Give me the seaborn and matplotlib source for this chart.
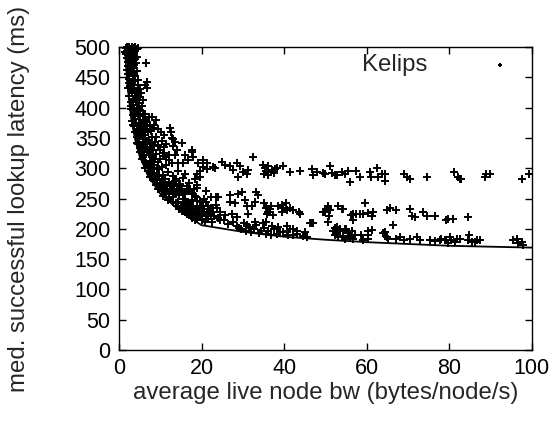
import numpy as np
import pandas as pd
import matplotlib
matplotlib.use('Agg')
import matplotlib.pyplot as plt
import seaborn as sns

# steep band on the left (low bandwidth, high latency)
steep_x = [1.6, 1.9, 2.2, 2.5, 2.8, 3.1, 3.4, 3.7, 4.0, 4.3,
           1.7, 2.0, 2.3, 2.6, 2.9, 3.2, 3.5, 3.8, 4.1, 4.4, 6.5,
           1.9, 2.2, 2.5, 2.8, 3.1, 3.4, 3.7, 4.0, 4.3, 4.6, 2.4, 3.0, 3.6, 6.7, 6.7, 6.3,
           2.2, 2.5, 2.8, 3.1, 3.4, 3.7, 4.0, 4.3, 4.6, 4.9, 5.2, 5.5, 2.9, 3.5, 4.1, 4.7,
           2.8, 3.1, 3.4, 3.7, 4.0, 4.3, 4.6, 4.9, 5.2, 5.5, 5.8, 6.1, 6.4, 6.8, 7.2, 3.6, 4.4, 5.0, 6.0,
           8.0, 8.6, 9.0, 9.4, 8.3,
           4.3, 4.6, 4.9, 5.2, 5.5, 5.8, 6.1, 6.4, 6.8, 7.2, 7.6, 8.0, 8.5, 4.5, 5.4, 6.6, 7.8,
           5.0, 5.5, 6.0, 6.5, 7.0, 7.5, 8.0, 8.5, 9.0, 9.5, 10.0, 10.5, 11.0, 11.5, 12.0, 6.2, 7.8, 9.2, 10.8, 12.8,
           7.0, 7.6, 8.2, 8.8, 9.4, 10.0, 10.6, 11.2, 11.8, 12.4, 13.0, 13.6, 14.2, 14.8, 15.4, 16.0, 8.5, 10.3, 12.1, 13.9,
           10.0, 10.6, 11.2, 11.8, 12.4, 13.0, 13.6, 14.2, 14.8, 15.4, 16.0, 16.6, 17.2, 17.8, 18.4, 19.0, 19.6, 11.5, 13.3, 15.1, 16.9, 18.7,
           14.0, 14.6, 15.2, 15.8, 16.4, 17.0, 17.6, 18.2, 18.8, 19.4, 20.0, 20.6, 21.2, 21.8, 22.4, 23.0, 16.1, 18.5, 20.3, 22.0]
steep_y = [498, 500, 496, 499, 497, 500, 495, 498, 493, 497,
           488, 482, 476, 485, 479, 472, 486, 480, 474, 483, 474,
           462, 455, 448, 468, 458, 444, 465, 452, 460, 446, 441, 436, 470, 442, 432, 437,
           432, 420, 410, 425, 405, 430, 415, 400, 422, 408, 418, 402, 438, 412, 428, 395,
           398, 378, 388, 370, 382, 365, 395, 374, 386, 362, 380, 368, 390, 372, 384, 398, 358, 366, 355,
           385, 372, 380, 364, 366,
           352, 340, 348, 333, 356, 344, 338, 350, 334, 346, 340, 352, 336, 358, 330, 343, 331,
           326, 315, 322, 308, 328, 312, 318, 305, 324, 310, 316, 302, 320, 306, 314, 300, 304, 301, 325, 308,
           296, 285, 292, 280, 298, 276, 289, 283, 294, 272, 287, 279, 296, 274, 284, 291, 279, 270, 278, 282,
           268, 255, 262, 248, 265, 252, 259, 244, 266, 250, 257, 242, 263, 247, 254, 268, 246, 252, 258, 261, 241, 252,
           238, 233, 230, 236, 225, 232, 218, 228, 235, 224, 215, 233, 217, 227, 234, 221, 227, 214, 238, 230]

# extra points filling the dense part of the steep band
fill_x = [1.5, 2.0, 2.6, 3.3, 3.9, 4.6, 2.4, 3.0,
          2.1, 2.7, 3.3, 3.9, 4.5, 5.0, 2.6, 3.2, 3.8, 4.4, 5.3, 5.8,
          3.0, 3.3, 3.9, 4.5, 5.1, 5.7, 6.3, 6.9, 7.5, 4.1, 4.7, 5.3, 5.9, 6.5, 7.0, 7.8, 3.8, 3.5,
          4.4, 5.0, 5.6, 6.2, 6.8, 7.4, 8.2, 8.8, 9.4, 10.0, 10.6, 5.8, 6.4, 7.0, 7.6, 8.2, 8.8, 9.6,
          11.4, 12.2, 9.0, 10.2, 11.0,
          7.4, 8.0, 8.6, 9.2, 9.8, 10.4, 11.0, 11.6, 12.2, 12.8, 13.4, 14.0, 14.6, 15.2, 15.8, 16.4,
          17.0, 17.6, 18.2, 10.5, 11.0, 12.0, 13.2, 9.0, 9.5,
          13.8, 14.4, 15.0, 15.6, 16.2, 16.8, 17.4, 18.0, 18.6, 19.2, 19.8, 20.4, 21.0, 21.6, 22.2,
          22.8, 17.5, 19.0, 20.8, 22.5, 24.0, 23.8, 15.8, 17.2, 16.0, 18.8, 20.0]
fill_y = [492, 494, 491, 489, 500, 499, 500, 486,
          468, 460, 452, 446, 438, 430, 436, 428, 420, 415, 425, 412,
          402, 396, 392, 388, 396, 390, 380, 376, 370, 375, 362, 372, 360, 365, 360, 362, 360, 372,
          342, 338, 328, 335, 326, 322, 330, 344, 338, 330, 325, 318, 312, 305, 300, 310, 316, 298,
          318, 322, 352, 360, 335,
          292, 285, 290, 282, 288, 280, 274, 266, 258, 265, 270, 262, 256, 266, 260, 270,
          266, 258, 266, 265, 258, 250, 245, 272, 266,
          242, 238, 235, 242, 236, 240, 230, 238, 224, 232, 224, 228, 222, 238, 224,
          228, 222, 216, 212, 212, 218, 234, 230, 226, 250, 246, 244]

# scattered points above the knee
knee_x = [12.3, 12.9, 12.7, 13.2, 13.5, 13.2, 15.2, 12.8, 13.6, 14.4, 15.6, 17.6, 16.8, 18.0, 19.2,
          20.4, 21.2, 23.2, 18.4, 19.6, 17.6, 20.4, 21.2, 22.8, 18.8, 19.6, 14.0, 16.0, 11.5, 11.0, 10.5,
          12.0, 14.5, 17.0, 19.0, 21.0, 22.4, 23.6, 22.8, 21.6, 20.5, 18.0, 16.5, 19.8, 23.5, 24.5, 21.0]
knee_y = [366, 350, 360, 349, 344, 336, 341, 308, 322, 308, 308, 327, 314, 319, 308,
          314, 308, 300, 283, 285, 330, 302, 298, 302, 291, 296, 330, 322, 340, 355, 345,
          275, 270, 275, 272, 262, 253, 253, 234, 217, 250, 258, 245, 232, 240, 228, 244]

# upper plateau (~300 ms)
upper_x = [32.5, 24.9, 25.7, 26.9, 27.7, 28.5, 29.3, 30.1, 30.9, 31.3, 28.9, 35.4, 36.2, 37.0, 35.0,
           36.2, 37.8, 39.8, 34.8, 36.0, 37.5, 38.2, 35.6,
           41.4, 43.8, 46.7, 47.1, 47.9, 49.5, 51.1, 51.5, 52.7,
           49.9, 52.3, 53.9, 54.7, 55.5, 55.9, 57.5, 58.3, 60.7, 61.1, 62.4, 62.8, 63.6, 64.4, 64.4,
           68.9, 69.7, 70.5, 74.5,
           81.2, 82.2, 82.6, 82.9, 88.6, 88.8, 89.8, 97.5, 99.4]
upper_y = [318, 311, 305, 303, 297, 308, 303, 294, 291, 297, 286, 300, 294, 297, 291,
           289, 298, 303, 305, 303, 292, 300, 296,
           294, 296, 298, 289, 293, 292, 303, 292, 289,
           291, 289, 294, 291, 296, 278, 296, 286, 293, 286, 300, 286, 291, 291, 279,
           291, 286, 283, 285,
           293, 286, 282, 283, 286, 291, 291, 282, 290]

# middle branch (~230 ms)
mid_x = [24.0, 26.9, 28.9, 29.7, 33.3, 33.7, 26.9, 28.1, 30.5, 30.9, 32.1, 32.9, 25.7, 27.3, 28.5, 31.3,
         35.0, 35.6, 36.2, 36.8, 37.4, 35.8, 36.6, 38.6, 39.4,
         40.4, 40.6, 39.8, 42.2, 43.8, 49.5, 50.7, 51.1, 50.9, 50.7, 46.3, 47.1, 53.1, 53.9,
         49.8, 50.6, 54.3, 56.7, 57.5, 58.3, 59.2, 60.4, 59.6, 61.6, 61.2, 64.8, 65.6, 67.2,
         70.5, 70.9, 71.7, 73.7, 74.5, 76.5, 79.3, 56.3, 56.7, 79.7, 80.9, 84.6, 39.5, 41.5, 43.5]
mid_y = [253, 256, 258, 261, 261, 256, 245, 242, 247, 237, 237, 245, 223, 225, 220, 225,
         242, 235, 228, 238, 223, 225, 232, 237, 228,
         242, 231, 234, 231, 225, 228, 237, 231, 221, 212, 209, 210, 237, 233,
         228, 234, 232, 224, 225, 224, 225, 226, 242, 228, 221, 231, 235, 231,
         232, 222, 220, 228, 221, 222, 214, 223, 214, 216, 217, 220, 240, 235, 228]

# lower branch, just above the envelope
low_x = [28.5, 29.5, 30.2, 30.8, 31.5, 32.0, 32.6, 33.2, 33.8, 34.4, 35.0, 35.6, 36.2, 29.0, 31.0, 33.0,
         34.8, 36.8, 37.5, 38.2, 39.0, 27.5, 26.5, 25.5, 24.5, 37.0, 38.5, 35.5,
         40.6, 40.6, 41.4, 42.2, 39.8, 43.0, 45.0, 52.3, 52.7, 53.5, 54.7, 55.5, 42.2,
         51.8, 52.4, 53.0, 53.6, 54.2, 54.8, 55.4, 56.0, 56.6, 57.2, 52.8, 55.0, 56.4, 58.6, 59.1,
         60.4, 60.4, 60.4, 64.0, 64.8, 65.2, 67.2, 68.0, 68.9, 70.5, 72.1, 72.9, 75.3, 76.5, 77.7,
         78.9, 79.7, 66.4, 61.2, 64.4,
         78.1, 79.3, 80.1, 80.5, 81.4, 81.8, 82.6, 84.6, 84.8, 85.4, 86.2, 86.6, 87.4,
         95.5, 96.3, 96.7, 97.5, 97.9, 41.0, 43.0, 44.5, 45.5, 46.7]
low_y = [205, 199, 210, 197, 203, 194, 199, 207, 193, 196, 201, 192, 197, 202, 206, 211,
         209, 190, 199, 192, 195, 212, 208, 214, 215, 205, 203, 212,
         204, 196, 199, 199, 194, 196, 195, 201, 193, 196, 199, 193, 189,
         196, 190, 186, 200, 188, 184, 194, 187, 183, 190, 203, 200, 196, 190, 181,
         183, 197, 189, 193, 187, 184, 184, 186, 181, 183, 187, 181, 181, 180, 181,
         181, 177, 206, 198, 194,
         183, 181, 187, 181, 179, 184, 183, 181, 190, 179, 179, 181, 181,
         181, 183, 176, 179, 173, 190, 192, 188, 186, 210]

# lower envelope curve
env_x = [1.4, 2, 3, 4, 5, 7, 10, 15, 20, 30, 40, 50, 60, 80, 100]
env_y = [500, 440, 380, 345, 320, 288, 258, 228, 206, 195, 187, 182, 178, 172, 169]

pts = pd.DataFrame({
    'bw': steep_x + fill_x + knee_x + upper_x + mid_x + low_x,
    'lat': steep_y + fill_y + knee_y + upper_y + mid_y + low_y,
})
env = pd.DataFrame({'bw': env_x, 'lat': env_y})

sns.set_theme(style='ticks')
plt.rcParams['font.family'] = ['Liberation Sans', 'DejaVu Sans']
plt.rcParams['font.size'] = 15.5

fig = plt.figure(figsize=(5.57, 4.24), dpi=100)
ax = fig.add_axes([0.2136, 0.1745, 0.955 - 0.2136, 0.889 - 0.1745])

sns.lineplot(data=env, x='bw', y='lat', ax=ax, color='black', lw=1.3,
             estimator=None, sort=True, legend=False)
sns.scatterplot(data=pts, x='bw', y='lat', ax=ax, marker='+', color='black',
                s=40, linewidth=1.4, label='Kelips', clip_on=False)

ax.set_xlim(0, 100)
ax.set_ylim(0, 500)
ax.set_xticks(range(0, 101, 20))
ax.set_yticks(range(0, 501, 50))
ax.tick_params(direction='in', length=5, width=1, top=True, right=True,
               labelsize=15.5, colors='black', pad=6)
for sp in ax.spines.values():
    sp.set_linewidth(1)
    sp.set_color('black')
ax.set_xlabel('average live node bw (bytes/node/s)', fontsize=17.3, labelpad=2)
ax.set_ylabel('med. successful lookup latency (ms)', fontsize=17.3, labelpad=32)

ax.legend(loc='upper right', frameon=False, markerfirst=False, fontsize=17.3,
          markerscale=0.45, handlelength=2, handletextpad=2.0,
          bbox_to_anchor=(1.015, 1.025), borderaxespad=0.2)

fig.savefig('out.png', dpi=100)
